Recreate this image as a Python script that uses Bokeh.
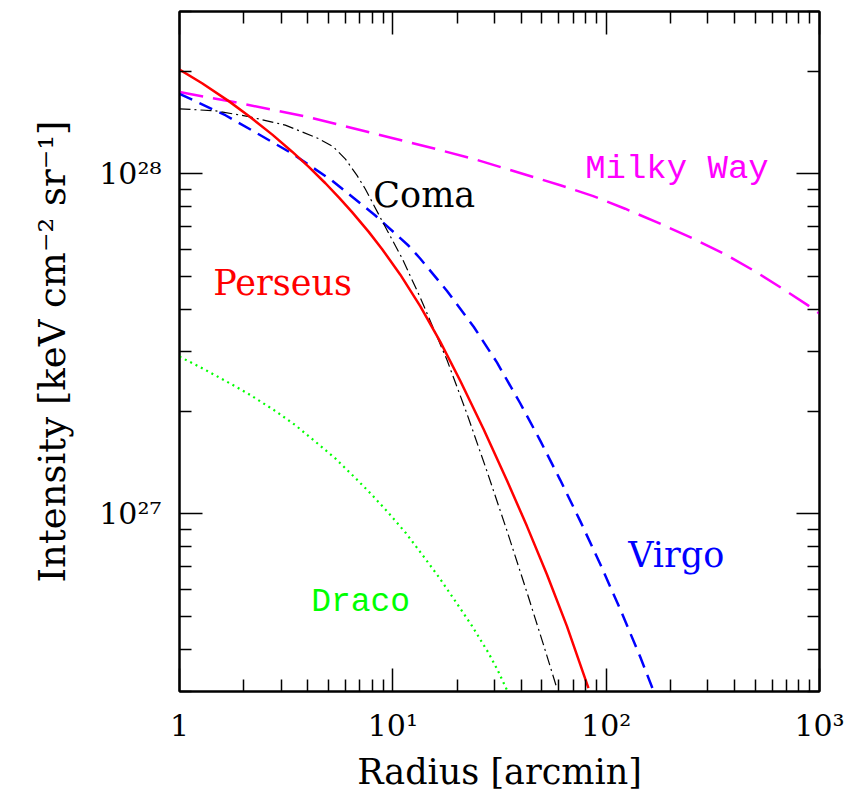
from bokeh.plotting import figure
from bokeh.models import LogAxis, FixedTicker, Range1d, CustomJSTickFormatter
from bokeh.core.properties import value
from bokeh.embed import file_html
from bokeh.resources import INLINE

# ---------------- data ----------------
perseus_r = [1, 1.276, 1.702, 2.113, 2.723, 3.373, 4.036, 4.831, 5.623, 6.442, 7.709, 8.913,
             10.84, 13.46, 16.67, 20.70, 26.61, 34.28, 42.56, 52.72, 65.46, 82.60]
perseus_I = [2.023e28, 1.845e28, 1.635e28, 1.479e28, 1.303e28, 1.161e28, 1.047e28, 9.376e27,
             8.472e27, 7.709e27, 6.745e27, 5.998e27, 5.047e27, 4.074e27, 3.206e27, 2.460e27,
             1.774e27, 1.253e27, 9.18e26, 6.64e26, 4.67e26, 3.07e26]

virgo_r = [1, 1.641, 2.193, 3.373, 5.188, 8.279, 11.86, 13.46, 17.95, 23.93, 30.76, 39.54,
           49.09, 60.95, 75.51, 93.76, 116.4, 144.2, 166.7]
virgo_I = [1.718e28, 1.486e28, 1.340e28, 1.146e28, 9.550e27, 7.534e27, 6.138e27, 5.623e27,
           4.519e27, 3.548e27, 2.786e27, 2.113e27, 1.641e27, 1.256e27, 9.528e26, 7.112e26,
           5.236e26, 3.802e26, 3.013e26]

coma_r = [1, 1.476, 2.113, 3.133, 4.487, 5.248, 5.998, 6.792, 7.430, 8.892, 11.04, 13.46,
          17.95, 22.23, 27.61, 34.28, 42.56, 50.82, 58.75]
coma_I = [1.552e28, 1.531e28, 1.472e28, 1.390e28, 1.268e28, 1.202e28, 1.104e28, 9.886e27,
          9.016e27, 7.278e27, 5.649e27, 4.315e27, 2.831e27, 1.972e27, 1.334e27, 8.913e26,
          5.861e26, 4.121e26, 3.069e26]

milkyway_r = [1, 1.828, 4.036, 9.908, 16.11, 24.32, 60.95, 86.3, 122.7, 179.1, 256.4,
              363.9, 504.7, 682.3, 887.2, 1000]
milkyway_I = [1.738e28, 1.622e28, 1.466e28, 1.274e28, 1.180e28, 1.102e28, 9.25e27, 8.610e27,
              7.89e27, 7.129e27, 6.442e27, 5.781e27, 5.140e27, 4.560e27, 4.093e27, 3.88e27]

draco_r = [1, 1.259, 1.641, 2.138, 2.818, 3.467, 4.335, 5.370, 6.668, 7.943, 9.550, 11.48,
           13.71, 16.41, 19.63, 23.44, 28.12, 30.90, 34.28]
draco_I = [2.897e27, 2.692e27, 2.460e27, 2.239e27, 2.004e27, 1.828e27, 1.629e27, 1.455e27,
           1.274e27, 1.140e27, 1.005e27, 8.79e26, 7.59e26, 6.52e26, 5.53e26, 4.69e26,
           3.89e26, 3.48e26, 3.03e26]

x_major = [1, 10, 100, 1000]
x_minor = [2, 3, 4, 5, 6, 7, 8, 9, 20, 30, 40, 50, 60, 70, 80, 90,
           200, 300, 400, 500, 600, 700, 800, 900]
y_major = [1e26, 1e27, 1e28]
y_minor = [2e26, 3e26, 4e26, 5e26, 6e26, 7e26, 8e26, 9e26,
           2e27, 3e27, 4e27, 5e27, 6e27, 7e27, 8e27, 9e27,
           2e28, 3e28]

SERIF = "DejaVu Serif"
MONO = "Liberation Mono"

p = figure(width=863, height=794, x_axis_type="log", y_axis_type="log",
           x_range=Range1d(1, 1000), y_range=Range1d(3.0e26, 3.0e28),
           output_backend="svg", toolbar_location=None,
           min_border_left=179, min_border_right=44, min_border_top=11, min_border_bottom=102,
           x_axis_label="Radius [arcmin]",
           y_axis_label="Intensity [keV cm\u207b\u00b2 sr\u207b\u00b9]")

p.xgrid.grid_line_color = None
p.ygrid.grid_line_color = None
p.outline_line_color = "black"
p.outline_line_width = 2
p.background_fill_color = "white"
p.border_fill_color = "white"

pow_fmt = CustomJSTickFormatter(code="""
const sup = {"0":"\u2070","1":"\u00b9","2":"\u00b2","3":"\u00b3","4":"\u2074",
             "5":"\u2075","6":"\u2076","7":"\u2077","8":"\u2078","9":"\u2079","-":"\u207b"};
const e = Math.round(Math.log10(tick));
if (e === 0) { return "1"; }
return "10" + String(e).split("").map(c => sup[c]).join("");
""")
blank_fmt = CustomJSTickFormatter(code="return '';")


def style_axis(ax, major, minor, show_labels):
    ax.ticker = FixedTicker(ticks=major, minor_ticks=minor)
    ax.major_tick_in = 23
    ax.major_tick_out = 0
    ax.minor_tick_in = 12
    ax.minor_tick_out = 0
    ax.major_tick_line_width = 1.5
    ax.minor_tick_line_width = 1.5
    ax.major_tick_line_color = "black"
    ax.minor_tick_line_color = "black"
    ax.axis_line_width = 2
    ax.axis_line_color = "black"
    if show_labels:
        ax.formatter = pow_fmt
        ax.major_label_text_font = SERIF
        ax.major_label_text_font_size = "30px"
        ax.major_label_text_color = "black"
        ax.axis_label_text_font = SERIF
        ax.axis_label_text_font_size = "35px"
        ax.axis_label_text_font_style = "normal"
        ax.axis_label_text_color = "black"
    else:
        ax.formatter = blank_fmt
        ax.major_label_text_font_size = "8px"
        ax.major_label_standoff = 0


xax = p.xaxis[0]
yax = p.yaxis[0]
style_axis(xax, x_major, x_minor, True)
style_axis(yax, y_major, y_minor, True)
xax.major_label_standoff = 16
xax.axis_label_standoff = 6
yax.major_label_standoff = 18
yax.axis_label_standoff = 22
yax.axis_label_text_font_size = "37px"

top = LogAxis()
right = LogAxis()
style_axis(top, x_major, x_minor, False)
style_axis(right, y_major, y_minor, False)
p.add_layout(top, "above")
p.add_layout(right, "right")

# ---------------- curves ----------------
p.line(milkyway_r, milkyway_I, line_color="#ff00ff", line_width=2.5, line_dash="24 10")
p.line(virgo_r, virgo_I, line_color="#0000ff", line_width=2.5, line_dash="14 8")
p.line(coma_r, coma_I, line_color="black", line_width=1.2, line_dash="11 4 2 4")
p.line(perseus_r, perseus_I, line_color="#ff0000", line_width=2.5)
p.line(draco_r, draco_I, line_color="#00ff00", line_width=2.2, line_dash="2 4")

# ---------------- labels ----------------
labels = [
    ("Milky Way", 79.7, 1.035e28, "#ff00ff", MONO, "34px"),
    ("Coma", 8.1, 8.63e27, "black", SERIF, "35px"),
    ("Perseus", 1.44, 4.78e27, "#ff0000", SERIF, "35px"),
    ("Virgo", 126.8, 7.58e26, "#0000ff", SERIF, "35px"),
    ("Draco", 4.14, 5.47e26, "#00ff00", MONO, "33px"),
]
for txt, lx, ly, col, fnt, fs in labels:
    p.text(x=[lx], y=[ly], text=[txt], text_color=col, text_font=value(fnt),
           text_font_size=fs, text_align="left", text_baseline="alphabetic")

open("out.html", "w").write(file_html(p, INLINE))
